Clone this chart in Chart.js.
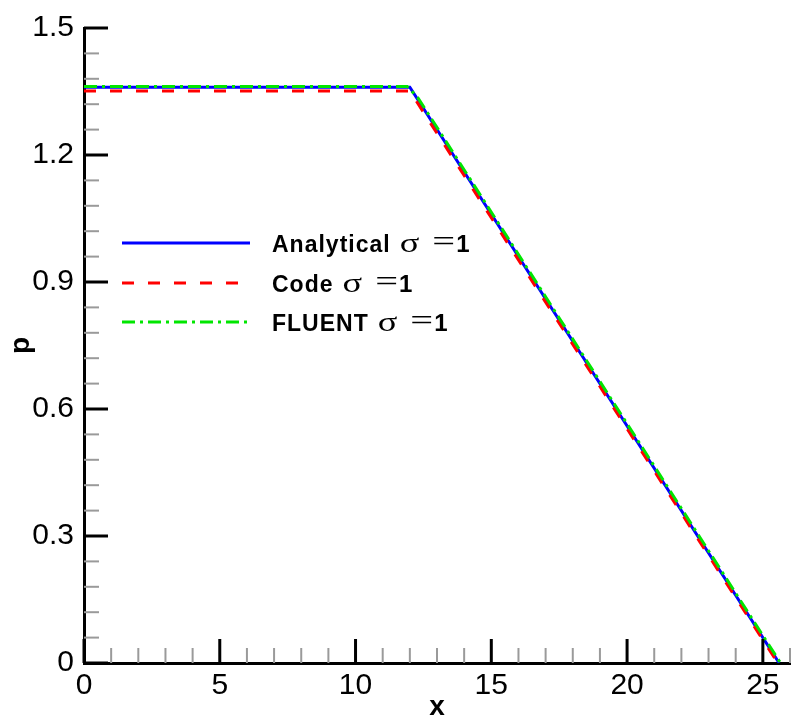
<!DOCTYPE html>
<html>
<head>
<meta charset="utf-8">
<script src="https://cdn.jsdelivr.net/npm/chart.js@4/dist/chart.umd.min.js"></script>
<style>
  body { margin: 0; background: #fff; }
  #wrap { width: 795px; height: 726px; }
</style>
</head>
<body>
<div id="wrap"><canvas id="chart" width="795" height="726"></canvas></div>
<script>
// Pressure along the channel, three solutions
const analyticalX = [0, 12, 25.6];
const analyticalP = [1.36, 1.36, 0];
const codeX = [0, 12, 25.55];
const codeP = [1.351, 1.351, 0];
const fluentX = [0, 11.9, 12.3, 25.65];
const fluentP = [1.362, 1.362, 1.335, 0];

const seriesNames = ['Analytical', 'Code', 'FLUENT'];
const xTickLabels = ['0', '5', '10', '15', '20', '25'];
const yTickLabels = ['0', '0.3', '0.6', '0.9', '1.2', '1.5'];

function toPoints(xs, ys) {
  return xs.map((x, i) => ({ x: x, y: ys[i] }));
}

const lineStyles = [
  { color: '#0000ff', dash: [] },
  { color: '#ff0000', dash: [12, 14] },
  { color: '#00e600', dash: [13, 5, 3, 5] }
];

// inward tick marks: long black for labelled ticks, short grey otherwise
const inwardTicks = {
  id: 'inwardTicks',
  afterDatasetsDraw(chart) {
    const ctx = chart.ctx;
    ['x', 'y'].forEach(id => {
      const scale = chart.scales[id];
      scale.ticks.forEach((t, i) => {
        const major = i % 5 === 0;
        const len = major ? 24 : 15;
        const px = scale.getPixelForTick(i);
        ctx.save();
        ctx.strokeStyle = major ? '#000' : '#9a9a9a';
        ctx.lineWidth = major ? 3 : 2;
        ctx.beginPath();
        if (id === 'x') {
          ctx.moveTo(px, scale.top);
          ctx.lineTo(px, scale.top - len);
        } else {
          ctx.moveTo(scale.right, px);
          ctx.lineTo(scale.right + len, px);
        }
        ctx.stroke();
        ctx.restore();
      });
    });
  }
};

// draw a glyph stretched sideways, returns its drawn width
function wideGlyph(ctx, ch, x, y, font, sx) {
  ctx.save();
  ctx.font = font;
  ctx.translate(x, y);
  ctx.scale(sx, 1);
  ctx.fillText(ch, 0, 0);
  const w = ctx.measureText(ch).width * sx;
  ctx.restore();
  return w;
}

// legend box inside the plot area
const innerLegend = {
  id: 'innerLegend',
  afterDraw(chart) {
    const ctx = chart.ctx;
    const x0 = 122, x1 = 250, tx = 272;
    const rows = [243, 283, 322];
    const serif = '"Liberation Serif", "DejaVu Serif", serif';
    seriesNames.forEach((name, i) => {
      const y = rows[i];
      const base = y + 9;
      ctx.save();
      ctx.strokeStyle = lineStyles[i].color;
      ctx.lineWidth = 3;
      ctx.setLineDash(lineStyles[i].dash);
      ctx.beginPath();
      ctx.moveTo(x0, y);
      ctx.lineTo(x1, y);
      ctx.stroke();
      ctx.setLineDash([]);
      ctx.fillStyle = '#000';
      ctx.textBaseline = 'alphabetic';
      ctx.letterSpacing = '1px';
      ctx.font = 'bold 23px "Liberation Sans", Arial, sans-serif';
      ctx.fillText(name, tx, base);
      let cx = tx + ctx.measureText(name).width + 9;
      ctx.letterSpacing = '0px';
      cx += wideGlyph(ctx, '\u03c3', cx, base, '27px ' + serif, 1.35) + 13;
      cx += wideGlyph(ctx, '=', cx, base - 1, '30px ' + serif, 1.35) + 1;
      ctx.font = 'bold 24px "Liberation Sans", Arial, sans-serif';
      ctx.fillText('1', cx, base);
      ctx.restore();
    });
  }
};

const tickFont = { family: '"Liberation Sans", Arial, sans-serif', size: 30 };
const titleFont = { family: '"Liberation Sans", Arial, sans-serif', size: 28, weight: 'bold' };

new Chart(document.getElementById('chart'), {
  type: 'line',
  data: {
    datasets: [
      { label: seriesNames[0], data: toPoints(analyticalX, analyticalP), order: 2 },
      { label: seriesNames[1], data: toPoints(codeX, codeP), order: 1 },
      { label: seriesNames[2], data: toPoints(fluentX, fluentP), order: 0 }
    ].map((d, i) => Object.assign(d, {
      borderColor: lineStyles[i].color,
      borderDash: lineStyles[i].dash,
      borderWidth: 3,
      pointRadius: 0,
      fill: false,
      tension: 0
    }))
  },
  options: {
    responsive: false,
    animation: false,
    layout: { padding: { left: 0, right: 2, top: 25, bottom: 0 } },
    plugins: { legend: { display: false }, tooltip: { enabled: false } },
    scales: {
      x: {
        type: 'linear',
        min: 0,
        max: 26,
        afterFit: s => { s.height = 63; },
        border: { color: '#000', width: 3 },
        grid: { display: false, drawTicks: false },
        ticks: {
          stepSize: 1,
          autoSkip: false,
          maxRotation: 0,
          padding: 5,
          color: '#000',
          font: tickFont,
          callback: (v, i) => (i % 5 === 0 ? xTickLabels[i / 5] : '')
        },
        title: { display: true, text: 'x', color: '#000', font: titleFont, padding: { top: 0, bottom: 2 } }
      },
      y: {
        min: 0,
        max: 1.5,
        afterFit: s => { s.width = 84; },
        border: { color: '#000', width: 3 },
        grid: { display: false, drawTicks: false },
        ticks: {
          stepSize: 0.06,
          autoSkip: false,
          padding: 10,
          color: '#000',
          font: tickFont,
          callback: (v, i) => (i % 5 === 0 ? yTickLabels[i / 5] : '')
        },
        title: { display: true, text: 'p', color: '#000', font: titleFont, padding: { top: 4, bottom: 0 } }
      }
    }
  },
  plugins: [inwardTicks, innerLegend]
});
</script>
</body>
</html>
